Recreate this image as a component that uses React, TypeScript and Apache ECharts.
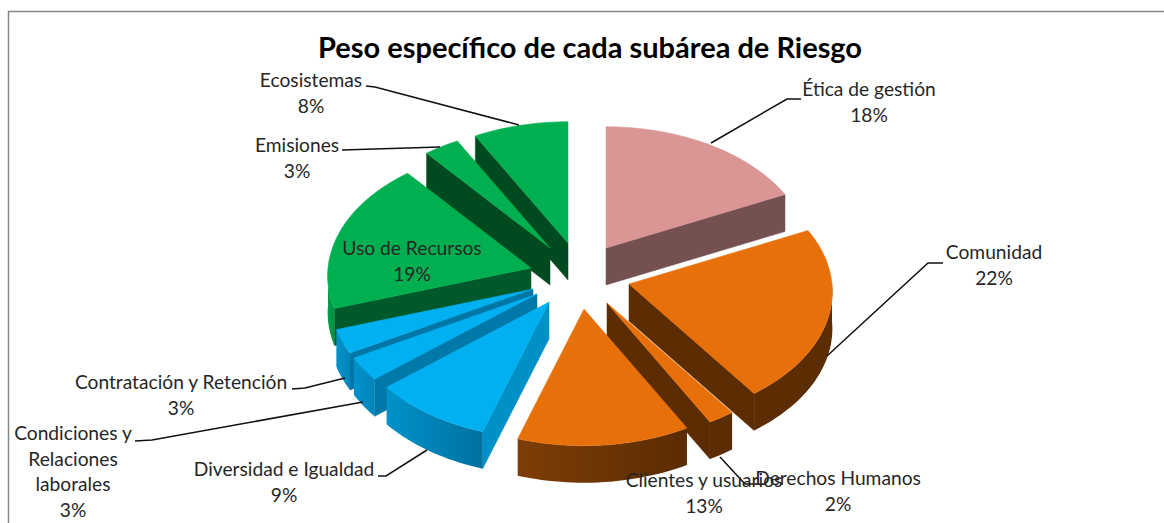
import React, { useEffect, useRef } from "react";
import * as echarts from "echarts";

const chartTitle = "Peso específico de cada subárea de Riesgo";
const categories = [
  "Ética de gestión",
  "Comunidad",
  "Derechos Humanos",
  "Clientes y usuarios",
  "Diversidad e Igualdad",
  "Condiciones y\nRelaciones\nlaborales",
  "Contratación y Retención",
  "Uso de Recursos",
  "Emisiones",
  "Ecosistemas",
];
const shares = [18, 22, 2, 13, 9, 3, 3, 19, 3, 8];

// Back-to-front painting order of the slices
const drawOrder = [0, 9, 8, 7, 6, 5, 4, 1, 2, 3];

// Pie geometry
const CX = 580, CY = 275, RX = 203, RY = 129, PERSP = 0.06, DEPTH = 37;
// Per-slice explosion, px from the pie centre
const explode = [
  [26, -27], [49, 9], [27, 28], [4, 34], [-31, 27],
  [-43, 19], [-47, 14], [-49, -7], [-30, -27], [-12, -32],
];

const topColors = ["#D99694", "#E8700A", "#E8700A", "#E8700A", "#00B0F0", "#00B0F0", "#00B0F0", "#00B050", "#00B050", "#00B050"];
const cutColors = ["#745050", "#5C2D02", "#5C2D02", "#5C2D02", "#0090C8", "#0078A8", "#0076A6", "#00592A", "#004A20", "#004A20"];
const arcLeftColors = ["#745050", "#5C2D02", "#5C2D02", "#7E3D05", "#0092CA", "#0092CA", "#0092CA", "#00A04A", "#004A20", "#004A20"];
const arcRightColors = ["#745050", "#5C2D02", "#5C2D02", "#5A2C02", "#0072A0", "#0086BA", "#0086BA", "#009040", "#004A20", "#004A20"];

// Label anchors [centre x, centre y of first line] and leader lines
const labelAnchors = [
  [869, 89], [994, 252], [838, 478], [704, 480], [284, 469],
  [73, 433], [181, 382], [412, 248], [297, 145], [311, 80],
];
const leaders = [
  [[711, 143], [787, 99], [801, 99]],
  [[827, 356], [928, 263], [943, 263]],
  [[720, 457], [745, 484], [758, 484]],
  null,
  [[378, 476], [386, 476], [427, 450]],
  [[135, 441], [152, 440], [363, 402]],
  [[292, 389], [305, 388], [345, 378]],
  null,
  [[342, 150], [440, 147]],
  [[366, 86], [375, 87], [519, 125]],
];

const FONT = "Lato";
const total = shares.reduce((a, b) => a + b, 0);
const startAngle = (i: number) =>
  (shares.slice(0, i).reduce((a, b) => a + b, 0) / total) * Math.PI * 2;

function rim(ax: number, ay: number, t: number) {
  const s = 1 - PERSP * Math.cos(t);
  return [ax + RX * Math.sin(t) * s, ay - RY * Math.cos(t) * s];
}
function arcPoints(ax: number, ay: number, a: number, b: number) {
  const n = Math.max(2, Math.ceil((b - a) / 0.03));
  const pts: number[][] = [];
  for (let k = 0; k <= n; k++) pts.push(rim(ax, ay, a + ((b - a) * k) / n));
  return pts;
}
const drop = (p: number[]) => [p[0], p[1] + DEPTH];

function renderSlice(_: any, api: any) {
  const i = api.value(0) as number;
  const t1 = startAngle(i);
  const t2 = t1 + (api.value(1) / total) * Math.PI * 2;
  const ax = CX + explode[i][0];
  const ay = CY + explode[i][1];
  const apex = [ax, ay];
  const children: any[] = [];
  const quad = (angle: number) => {
    const p = rim(ax, ay, angle);
    children.push({
      type: "polygon",
      shape: { points: [apex, p, drop(p), drop(apex)] },
      style: { fill: cutColors[i], stroke: cutColors[i], lineWidth: 0.5 },
    });
  };
  // Cut faces that look towards the viewer
  if (Math.sin(t1) < 0) quad(t1);
  if (Math.sin(t2) > 0) quad(t2);
  // Outer wall, only on the front half
  const a = Math.max(t1, Math.PI / 2);
  const b = Math.min(t2, (Math.PI * 3) / 2);
  if (b > a) {
    const top = arcPoints(ax, ay, a, b);
    children.push({
      type: "polygon",
      shape: { points: [...top, ...top.map(drop).reverse()] },
      style: {
        fill: new echarts.graphic.LinearGradient(0, 0, 1, 0, [
          { offset: 0, color: arcLeftColors[i] },
          { offset: 1, color: arcRightColors[i] },
        ]),
      },
    });
  }
  children.push({
    type: "polygon",
    shape: { points: [apex, ...arcPoints(ax, ay, t1, t2)] },
    style: { fill: topColors[i], stroke: topColors[i], lineWidth: 0.5 },
  });
  return { type: "group", children };
}

export default function App() {
  const ref = useRef<HTMLDivElement>(null);
  useEffect(() => {
    const chart = echarts.init(ref.current!, null, { renderer: "svg" });
    const labelGraphics = categories.map((name, i) => ({
      type: "text",
      z: 50,
      x: labelAnchors[i][0],
      y: labelAnchors[i][1] - 12.7,
      style: {
        text: `${name}\n${shares[i]}%`,
        font: `19.2px ${FONT}`,
        lineHeight: 25.4,
        fill: "#262626",
        align: "center",
        verticalAlign: "top",
      },
    }));
    const leaderGraphics = leaders
      .filter((l) => l)
      .map((l) => ({
        type: "polyline",
        z: 40,
        shape: { points: l },
        style: { stroke: "#111111", lineWidth: 1.5, fill: "none" },
      }));
    chart.setOption({
      animation: false,
      backgroundColor: "#ffffff",
      title: {
        text: chartTitle,
        left: 585,
        top: 27,
        textAlign: "center",
        textStyle: { fontFamily: FONT, fontWeight: "bold", fontSize: 29, color: "#000000" },
      },
      series: [
        {
          type: "custom",
          coordinateSystem: "none",
          silent: true,
          renderItem: renderSlice,
          data: drawOrder.map((i) => [i, shares[i]]),
        },
      ],
      graphic: [
        {
          type: "polyline",
          z: 30,
          shape: { points: [[8.5, 523], [8.5, 11.5], [1164, 11.5]] },
          style: { stroke: "#868686", lineWidth: 1.5, fill: "none" },
        },
        ...leaderGraphics,
        ...labelGraphics,
      ],
    });
    return () => chart.dispose();
  }, []);
  return <div ref={ref} style={{ position: "absolute", left: 0, top: 0, width: 1164, height: 523 }} />;
}
